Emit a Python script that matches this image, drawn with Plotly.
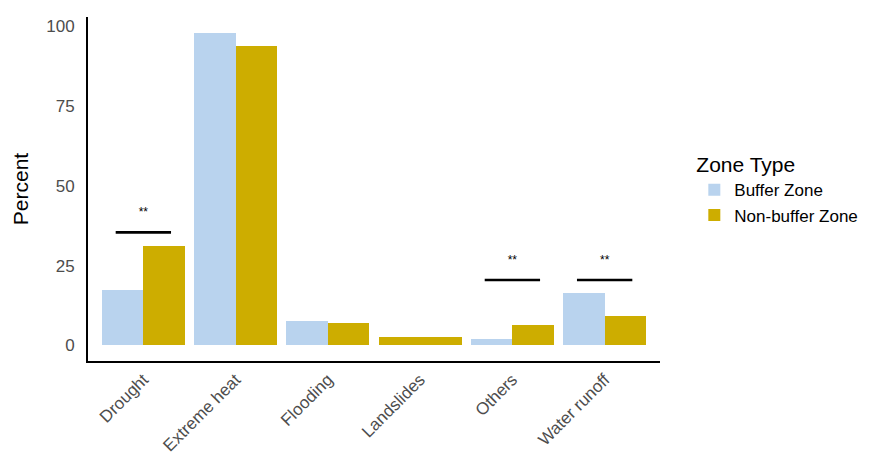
import plotly.graph_objects as go

categories = ["Drought", "Extreme heat", "Flooding", "Landslides", "Others", "Water runoff"]
buffer_zone = [17.4, 98.0, 7.6, None, 1.9, 16.3]
non_buffer_zone = [31.2, 93.8, 7.1, 2.5, 6.4, 9.2]
sig_categories = ["Drought", "Others", "Water runoff"]
sig_line_y = [35.4, 20.5, 20.5]
sig_labels = ["**", "**", "**"]

BLUE = "#B9D3EE"
GOLD = "#CDAD00"
GROUP_W = 0.9
HALF = GROUP_W / 2

idx = list(range(len(categories)))


def geom(values, other, first):
    widths, offsets = [], []
    for v, o in zip(values, other):
        if o is None:
            widths.append(GROUP_W)
            offsets.append(-HALF)
        else:
            widths.append(HALF)
            offsets.append(-HALF if first else 0.0)
    return widths, offsets


bw, bo = geom(buffer_zone, non_buffer_zone, True)
nw, no = geom(non_buffer_zone, buffer_zone, False)

fig = go.Figure()
fig.add_trace(go.Bar(x=idx, y=buffer_zone, width=bw, offset=bo, name="Buffer Zone",
                     marker=dict(color=BLUE, line=dict(width=0))))
fig.add_trace(go.Bar(x=idx, y=non_buffer_zone, width=nw, offset=no, name="Non-buffer Zone",
                     marker=dict(color=GOLD, line=dict(width=0))))

lx, ly, tx, ty = [], [], [], []
for c, y, lab in zip(sig_categories, sig_line_y, sig_labels):
    i = categories.index(c)
    lx += [i - 0.3, i + 0.3, None]
    ly += [y, y, None]
    tx.append(i)
    ty.append(y + 6)
fig.add_trace(go.Scatter(x=lx, y=ly, mode="lines", line=dict(color="black", width=2.6),
                         showlegend=False, hoverinfo="skip"))
fig.add_trace(go.Scatter(x=tx, y=ty, mode="text", text=sig_labels,
                         textfont=dict(size=12, color="black"),
                         showlegend=False, hoverinfo="skip"))

fig.update_layout(
    width=886, height=457,
    margin=dict(l=88, r=226, t=17, b=96),
    plot_bgcolor="white", paper_bgcolor="white",
    barmode="overlay", bargap=0,
    font=dict(family="Liberation Sans, Arial, sans-serif", color="black"),
    legend=dict(
        title=dict(text="Zone Type", font=dict(size=21, color="black")),
        font=dict(size=17, color="black"),
        x=1.06, xanchor="left", y=0.5, yanchor="middle",
        itemsizing="constant", tracegroupgap=0,
    ),
)
fig.update_xaxes(
    range=[-0.6, len(categories) - 0.4],
    tickmode="array", tickvals=idx, ticktext=categories, tickangle=-45,
    tickfont=dict(size=17, color="#4d4d4d"),
    showline=True, linecolor="black", linewidth=2,
    showgrid=False, zeroline=False, ticks="", automargin=False,
)
fig.update_yaxes(
    range=[-4.9, 102.9],
    tickmode="array", tickvals=[0, 25, 50, 75, 100],
    tickfont=dict(size=17, color="#4d4d4d"),
    title=dict(text="Percent", font=dict(size=21, color="black"), standoff=12),
    showline=True, linecolor="black", linewidth=2,
    showgrid=False, zeroline=False, ticks="", ticklabelstandoff=8, automargin=False,
)

fig.write_html("out.html")
